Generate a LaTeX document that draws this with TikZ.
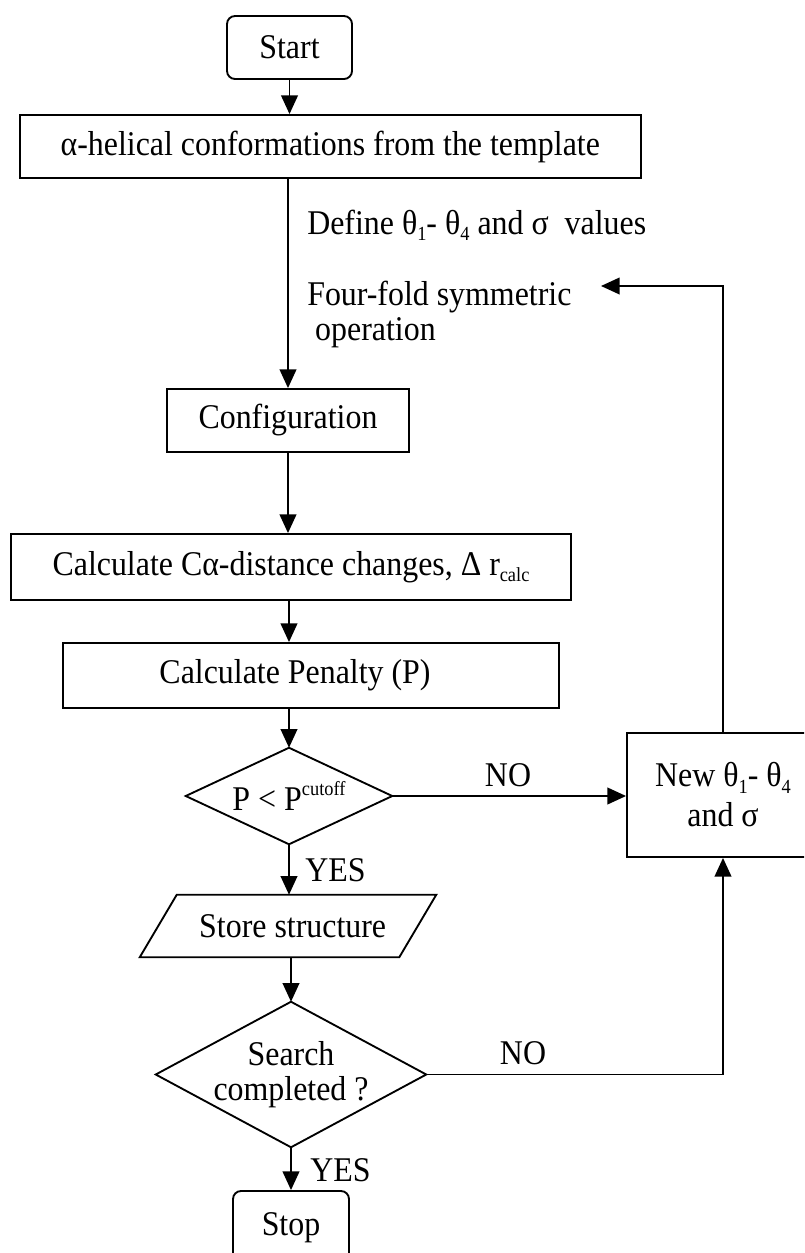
\documentclass[tikz,border=0pt]{standalone}
\usepackage{fontspec}
\setmainfont{Liberation Serif}[FakeStretch=0.92]
\usetikzlibrary{arrows.meta,calc}
\newcommand\lsub[1]{\raisebox{-0.4ex}{\fontsize{15pt}{15pt}\selectfont #1}}
\newcommand\lsup[1]{\raisebox{0.95ex}{\fontsize{15pt}{15pt}\selectfont #1}}
\begin{document}
\begin{tikzpicture}[x=0.75pt,y=-0.75pt,
  every node/.style={font=\fontsize{26pt}{30pt}\selectfont},
  box/.style={draw, line width=1.4pt, rectangle, inner sep=0pt, align=center},
  rbox/.style={box, rounded corners=6pt},
  decarea/.style={rectangle, inner sep=0pt, align=center},
  lbl/.style={inner sep=0pt, align=left},
  conn/.style={line width=1.4pt, -{Triangle[length=14pt,width=12.5pt]}},
  plain/.style={line width=1.4pt, line join=miter}
]
\clip (0,0) rectangle (804,1253);
% nodes
\node[rbox, minimum width=93.75pt, minimum height=47.25pt] (start) at (289.5,47.5) {Start};
\node[box, minimum width=466pt, minimum height=47.25pt] (alpha) at (330.25,146.5) {α-helical conformations from the template};
\node[box, minimum width=181.5pt, minimum height=47.25pt] (config) at (288,420.5) {Configuration};
\node[box, minimum width=420pt, minimum height=49.5pt] (calpha) at (291,567) {Calculate Cα-distance changes, Δ r\lsub{calc}};
\node[box, minimum width=372pt, minimum height=48.75pt] (penalty) at (311,675.5) {Calculate Penalty (P)\hspace*{24pt}};
\node[decarea, minimum width=154.5pt, minimum height=72pt] (dec1) at (289,796) {P < P\lsup{cutoff}};
\draw[plain] (dec1.north) -- (dec1.east) -- (dec1.south) -- (dec1.west) -- cycle;
\node[inner sep=0pt, minimum width=222pt, minimum height=46.5pt] (store) at (288,926) {\hspace*{7pt}Store structure};
\draw[plain] (store.south west) -- ($(store.south east)+(-37,0)$) -- (store.north east) -- ($(store.north west)+(37,0)$) -- cycle;
\node[decarea, minimum width=202.5pt, minimum height=108.75pt, font=\fontsize{26pt}{26pt}\selectfont] (search) at (291,1074.5) {Search\\completed ?};
\draw[plain] (search.north) -- (search.east) -- (search.south) -- (search.west) -- cycle;
\node[rbox, minimum width=87pt, minimum height=55.5pt] (stop) at (291,1228) {Stop};
\node[box, minimum width=144pt, minimum height=93pt] (new) at (723,795) {New θ\lsub{1}- θ\lsub{4}\\and σ};
% labels
\node[lbl, anchor=west] (deflbl) at (307,225) {Define θ\lsub{1}- θ\lsub{4} and σ\ \ values};
\node[lbl, anchor=west, font=\fontsize{26pt}{26pt}\selectfont] (fourlbl) at (307,314.5) {Four-fold symmetric\\\ operation};
\node[lbl] (no1) at (508,775) {NO};
\node[lbl] (no2) at (523,1053) {NO};
\node[lbl, anchor=west] (yes1) at (305,870) {YES};
\node[lbl, anchor=west] (yes2) at (310,1170) {YES};
\coordinate (loopend) at (601,286);
% connectors
\draw[conn] (start.south) -- (start.south |- alpha.north);
\draw[conn] (alpha.south -| config.north) -- (config.north);
\draw[conn] (config.south) -- (config.south |- calpha.north);
\draw[conn] (calpha.south -| dec1.north) -- (dec1.north |- penalty.north);
\draw[conn] (penalty.south -| dec1.north) -- (dec1.north);
\draw[conn] (dec1.south) -- (dec1.south |- store.north);
\draw[conn] (store.south -| search.north) -- (search.north);
\draw[conn] (search.south) -- (stop.north);
\draw[conn] (dec1.east) -- (dec1.east -| new.west);
\draw[conn] (search.east) -| (new.south);
\draw[conn] (new.north) |- (loopend);
\end{tikzpicture}
\end{document}
